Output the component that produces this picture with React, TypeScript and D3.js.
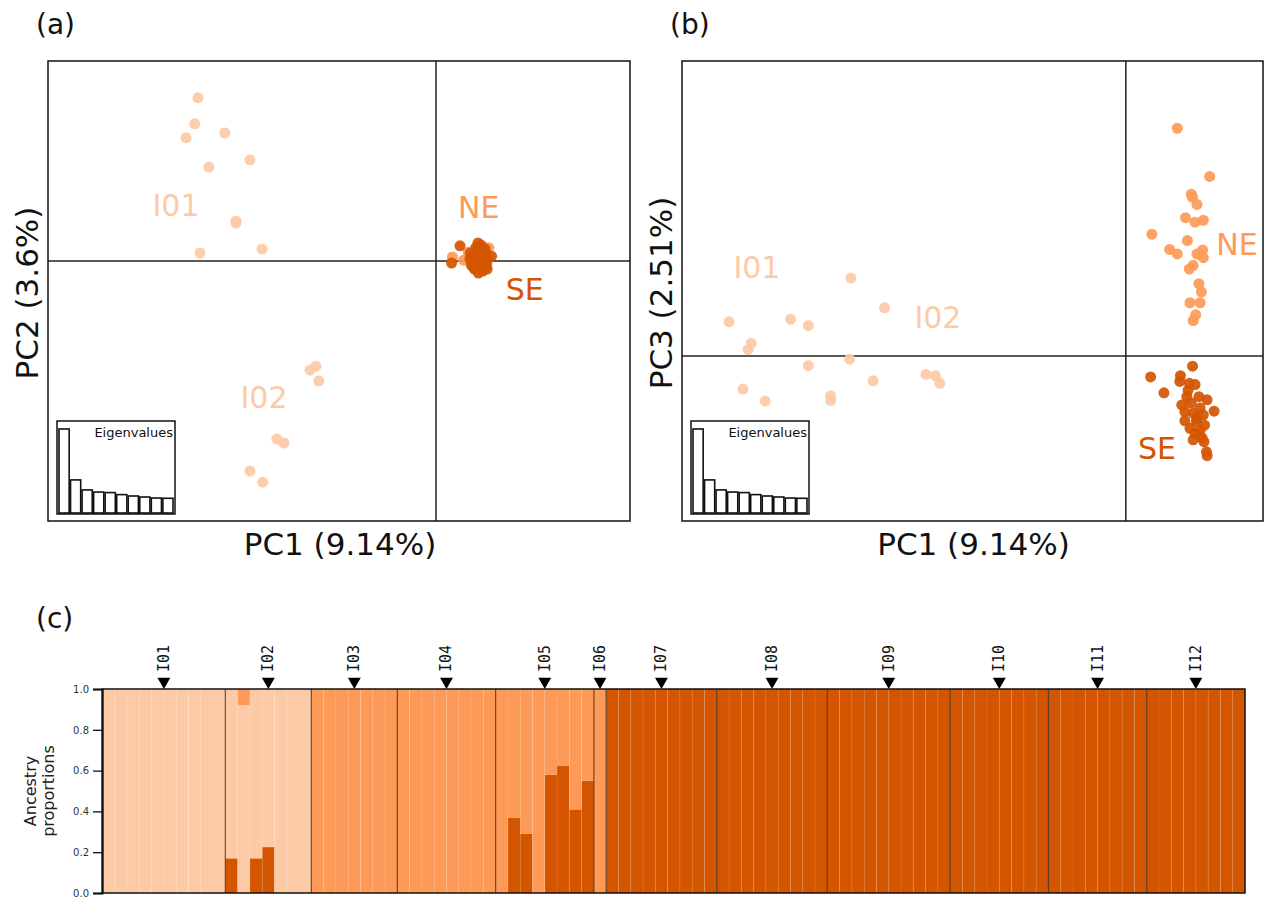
import React, { useEffect, useRef } from 'react';
import * as d3 from 'd3';

const LIGHT = '#fdcaa6';
const MEDIUM = '#fd9a57';
const DARK = '#d45500';

// PCA scores
const lightPC1 = [-6.25, -6.03, -5.95, -5.9, -5.68, -5.28, -5.0, -5.0, -4.65, -4.65, -4.35, -4.33, -3.98, -3.8, -3.15, -3.0, -2.93];
const lightPC2 = [3.08, 3.43, 4.08, 0.2, 2.35, 3.2, 1.0, 0.95, 2.53, -5.25, 0.3, -5.53, -4.45, -4.55, -2.73, -2.63, -3.0];
const lightPC3 = [0.54, -0.52, 0.1, 0.2, -0.71, 0.58, -0.15, 0.48, -0.63, -0.7, -0.05, 1.23, -0.39, 0.76, -0.29, -0.31, -0.43];

const nePC1 = [0.81, 1.32, 1.03, 1.05, 1.12, 0.94, 1.09, 1.22, 0.41, 0.97, 0.69, 0.81, 1.21, 1.12, 1.22, 1.06, 1.0, 1.15, 1.19, 1.17, 1.01, 1.1, 1.06];
const nePC2 = [0.22, 0.33, 0.05, 0.18, 0.12, -0.08, 0.25, 0.15, 0.1, 0.3, 0.02, 0.2, 0.08, -0.12, 0.28, 0.16, -0.05, 0.1, 0.35, 0.0, 0.24, 0.12, -0.15];
const nePC3 = [3.59, 2.83, 2.55, 2.5, 2.39, 2.18, 2.11, 2.14, 1.92, 1.82, 1.68, 1.61, 1.67, 1.61, 1.55, 1.43, 1.37, 1.14, 1.01, 0.84, 0.84, 0.65, 0.56];

const sePC1 = [1.05, 0.39, 0.86, 1.0, 1.09, 0.6, 0.85, 0.96, 1.15, 1.28, 0.88, 1.03, 1.17, 1.39, 1.06, 1.22, 0.93, 1.11, 1.24, 1.01, 1.17, 1.09, 1.06, 1.23, 1.27, 1.28, 0.98, 1.12, 0.93, 1.2];
const sePC2 = [0.45, -0.05, 0.2, 0.1, 0.3, 0.38, 0.05, -0.2, 0.15, 0.05, -0.1, 0.25, -0.05, 0.12, -0.3, 0.2, 0.15, 0.0, -0.15, 0.35, -0.25, 0.1, -0.12, 0.3, -0.05, -0.2, 0.05, 0.4, -0.15, 0.08];
const sePC3 = [-0.16, -0.33, -0.31, -0.43, -0.45, -0.58, -0.4, -0.64, -0.64, -0.69, -0.77, -0.74, -0.82, -0.87, -0.9, -0.93, -1.02, -1.03, -1.09, -1.14, -1.17, -1.22, -1.32, -1.35, -1.51, -1.57, -0.54, -0.98, -0.88, -1.29];

const eigenvalues = [9.14, 3.6, 2.51, 2.28, 2.22, 2.0, 1.85, 1.74, 1.63, 1.6];

// group label anchors (PC units)
const labelNames = ['I01', 'I02', 'NE', 'SE'];
const labelColors = [LIGHT, LIGHT, MEDIUM, DARK];
const labelA = [[-6.5, 1.38], [-4.3, -3.4], [1.07, 1.33], [2.22, -0.7]];
const labelB = [[-5.81, 1.39], [-2.96, 0.6], [1.75, 1.76], [0.49, -1.46]];

// admixture (K = 3)
const groups = ['I01', 'I02', 'I03', 'I04', 'I05', 'I06', 'I07', 'I08', 'I09', 'I10', 'I11', 'I12'];
const groupSizes = [10, 7, 7, 8, 8, 1, 9, 9, 10, 8, 8, 8];
const mainCluster = ['light', 'light', 'medium', 'medium', 'medium', 'medium', 'dark', 'dark', 'dark', 'dark', 'dark', 'dark'];
const i02Dark = [0.17, 0, 0.17, 0.225, 0, 0, 0];
const i02Medium = [0, 0.08, 0, 0, 0, 0, 0];
const i05Dark = [0, 0.37, 0.29, 0, 0.58, 0.625, 0.41, 0.55];
const yTicks = [0, 0.2, 0.4, 0.6, 0.8, 1.0];

const SANS = 'DejaVu Sans, sans-serif';

export default function App() {
  const svgRef = useRef<SVGSVGElement>(null);

  useEffect(() => {
    const svg = d3.select(svgRef.current);
    svg.selectAll('*').remove();

    const lightPts = lightPC1.map((v, i) => ({ pc1: v, pc2: lightPC2[i], pc3: lightPC3[i], c: LIGHT }));
    const nePts = nePC1.map((v, i) => ({ pc1: v, pc2: nePC2[i], pc3: nePC3[i], c: MEDIUM }));
    const sePts = sePC1.map((v, i) => ({ pc1: v, pc2: sePC2[i], pc3: sePC3[i], c: DARK }));
    const allPts = [...lightPts, ...nePts, ...sePts];

    const drawPCA = (box, xDomain, yDomain, yKey, labels, panelTag, yTitle, yTitleX) => {
      const g = svg.append('g');
      const x = d3.scaleLinear().domain(xDomain).range([box.x0, box.x1]);
      const y = d3.scaleLinear().domain(yDomain).range([box.y1, box.y0]);

      // crosshair at origin
      g.append('line').attr('x1', x(0)).attr('x2', x(0)).attr('y1', box.y0).attr('y2', box.y1)
        .attr('stroke', '#222').attr('stroke-width', 1.5);
      g.append('line').attr('x1', box.x0).attr('x2', box.x1).attr('y1', y(0)).attr('y2', y(0))
        .attr('stroke', '#222').attr('stroke-width', 1.5);

      // eigenvalue inset
      const ins = { x0: box.x0 + 9, x1: box.x0 + 127, y0: 421, y1: 514 };
      g.append('rect').attr('x', ins.x0).attr('y', ins.y0).attr('width', ins.x1 - ins.x0).attr('height', ins.y1 - ins.y0)
        .attr('fill', '#fff').attr('stroke', '#111').attr('stroke-width', 1.5);
      const ex = d3.scaleBand().domain(d3.range(eigenvalues.length)).range([ins.x0 + 2, ins.x1 - 2]).paddingInner(0.12);
      const ey = d3.scaleLinear().domain([0, eigenvalues[0]]).range([ins.y1 - 1, ins.y0 + 8]);
      g.selectAll('.eig').data(eigenvalues).enter().append('rect')
        .attr('x', (d, i) => ex(i)).attr('width', ex.bandwidth())
        .attr('y', (d) => ey(d)).attr('height', (d) => ey(0) - ey(d))
        .attr('fill', '#fff').attr('stroke', '#111').attr('stroke-width', 1.6);
      g.append('text').attr('x', ins.x1 - 2).attr('y', ins.y0 + 16).attr('text-anchor', 'end')
        .style('font-family', SANS).style('font-size', '13px').attr('fill', '#111').text('Eigenvalues');

      // labels
      labels.forEach((p, i) => {
        g.append('text').attr('x', x(p[0])).attr('y', y(p[1])).attr('text-anchor', 'middle')
          .attr('dominant-baseline', 'central')
          .style('font-family', SANS).style('font-size', '30px').attr('fill', labelColors[i])
          .text(labelNames[i]);
      });

      // points
      g.selectAll('.pt').data(allPts).enter().append('circle')
        .attr('cx', (d) => x(d.pc1)).attr('cy', (d) => y(d[yKey])).attr('r', 5.5)
        .attr('fill', (d) => d.c).attr('fill-opacity', 0.92);

      // frame
      g.append('rect').attr('x', box.x0).attr('y', box.y0).attr('width', box.x1 - box.x0).attr('height', box.y1 - box.y0)
        .attr('fill', 'none').attr('stroke', '#111').attr('stroke-width', 1.5);

      // axis titles
      g.append('text').attr('x', (box.x0 + box.x1) / 2 + 1).attr('y', 555).attr('text-anchor', 'middle')
        .style('font-family', SANS).style('font-size', '31px').attr('fill', '#111').text('PC1 (9.14%)');
      g.append('text').attr('transform', `translate(${yTitleX},${(box.y0 + box.y1) / 2 + 2}) rotate(-90)`)
        .attr('text-anchor', 'middle')
        .style('font-family', SANS).style('font-size', '31px').attr('fill', '#111').text(yTitle);

      svg.append('text').attr('x', box.x0 - 12).attr('y', 34)
        .style('font-family', SANS).style('font-size', '28px').attr('fill', '#111').text(panelTag);
    };

    drawPCA({ x0: 48, x1: 630, y0: 61, y1: 521 }, [-9.7, 4.85], [-6.5, 5.0], 'pc2', labelA, '(a)', 'PC2 (3.6%)', 38);
    drawPCA({ x0: 682, x1: 1263, y0: 61, y1: 521 }, [-6.99, 2.16], [-2.6, 4.65], 'pc3', labelB, '(b)', 'PC3 (2.51%)', 672);

    // ---- (c) structure plot ----
    const inds = [];
    groups.forEach((gName, gi) => {
      for (let i = 0; i < groupSizes[gi]; i++) {
        let dark = mainCluster[gi] === 'dark' ? 1 : 0;
        let medium = 0;
        if (gName === 'I02') { dark = i02Dark[i]; medium = i02Medium[i]; }
        if (gName === 'I05') dark = i05Dark[i];
        if (mainCluster[gi] === 'medium') medium = 1 - dark;
        const light = mainCluster[gi] === 'light' ? 1 - dark - medium : 0;
        inds.push({ idx: inds.length, group: gName, dark, light, medium });
      }
    });

    const cx = d3.scaleBand().domain(d3.range(inds.length)).range([102.5, 1245]);
    const cy = d3.scaleLinear().domain([0, 1]).range([893, 689]);
    const keys = ['dark', 'light', 'medium'];
    const colors = { dark: DARK, light: LIGHT, medium: MEDIUM };
    const series = d3.stack().keys(keys)(inds);

    const gc = svg.append('g');
    series.forEach((s) => {
      gc.selectAll(`.b-${s.key}`).data(s).enter().append('rect')
        .attr('x', (d, i) => cx(i)).attr('width', cx.bandwidth())
        .attr('y', (d) => cy(d[1])).attr('height', (d) => cy(d[0]) - cy(d[1]))
        .attr('fill', colors[s.key]);
    });
    // faint separators between individuals
    gc.selectAll('.sep').data(inds.slice(1)).enter().append('line')
      .attr('x1', (d) => cx(d.idx)).attr('x2', (d) => cx(d.idx))
      .attr('y1', cy(1)).attr('y2', cy(0))
      .attr('stroke', '#fff').attr('stroke-opacity', 0.1).attr('stroke-width', 1);

    // group boundaries, markers, names
    let start = 0;
    groups.forEach((gName, gi) => {
      const x0 = cx(start);
      const x1 = cx(start + groupSizes[gi] - 1) + cx.bandwidth();
      if (gi > 0) {
        gc.append('line').attr('x1', x0).attr('x2', x0).attr('y1', cy(1)).attr('y2', cy(0))
          .attr('stroke', '#3b2416').attr('stroke-opacity', 0.75).attr('stroke-width', 1.2);
      }
      const mid = (x0 + x1) / 2;
      gc.append('path').attr('d', d3.symbol().type(d3.symbolTriangle).size(72)())
        .attr('transform', `translate(${mid},${cy(1) - 7.5}) rotate(180)`).attr('fill', '#000');
      gc.append('text').attr('transform', `translate(${mid},${cy(1) - 17}) rotate(-90)`)
        .attr('dominant-baseline', 'central')
        .style('font-family', 'DejaVu Sans Mono, monospace').style('font-size', '15px').attr('fill', '#111')
        .text(gName);
      start += groupSizes[gi];
    });

    gc.append('rect').attr('x', 102.5).attr('y', cy(1)).attr('width', 1245 - 102.5).attr('height', cy(0) - cy(1))
      .attr('fill', 'none').attr('stroke', '#111').attr('stroke-width', 1.5);

    const yAxis = gc.append('g').attr('transform', 'translate(102,0)')
      .call(d3.axisLeft(cy).tickValues(yTicks).tickFormat(d3.format('.1f')).tickSize(9).tickPadding(4));
    yAxis.select('.domain').attr('stroke', '#111').attr('stroke-width', 2.2);
    yAxis.selectAll('.tick line').attr('stroke', '#111').attr('stroke-width', 1.3);
    yAxis.selectAll('.tick text').style('font-family', SANS).style('font-size', '10px').attr('fill', '#333');

    const yl = gc.append('text').attr('transform', 'translate(0,791) rotate(-90)')
      .attr('text-anchor', 'middle').style('font-family', SANS).style('font-size', '16px').attr('fill', '#222');
    yl.append('tspan').attr('x', 0).attr('y', 36).text('Ancestry');
    yl.append('tspan').attr('x', 0).attr('y', 54).text('proportions');

    svg.append('text').attr('x', 36).attr('y', 628)
      .style('font-family', SANS).style('font-size', '28px').attr('fill', '#111').text('(c)');
  }, []);

  return (
    <svg ref={svgRef} width={1275} height={899}
      style={{ position: 'absolute', left: 0, top: 0, background: '#fff' }} />
  );
}
